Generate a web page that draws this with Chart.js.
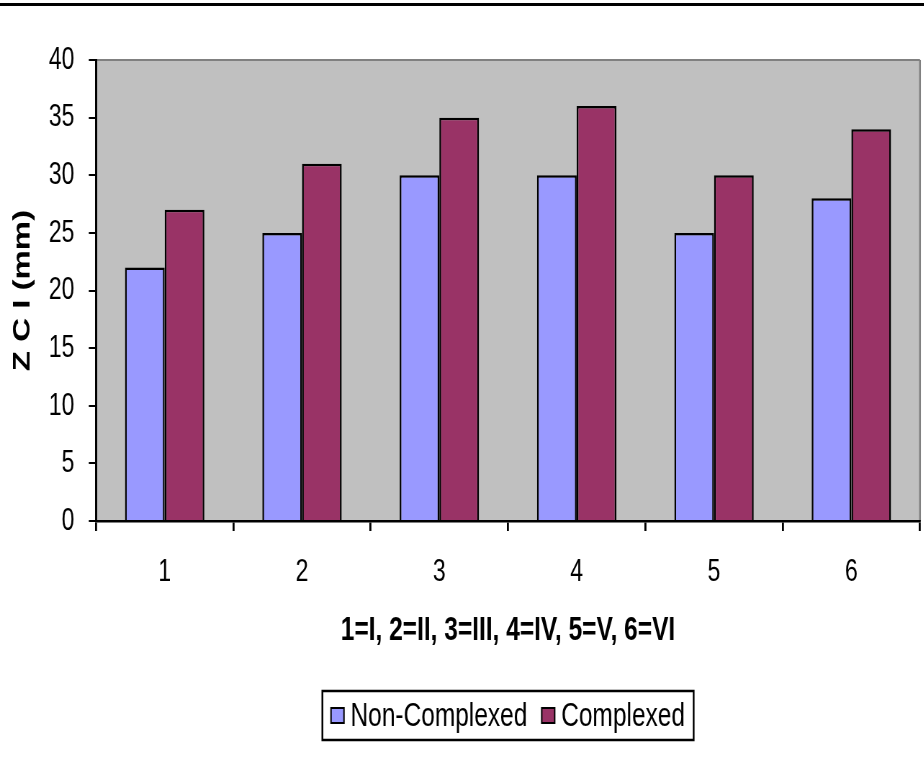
<!DOCTYPE html>
<html><head><meta charset="utf-8">
<script src="https://cdn.jsdelivr.net/npm/chart.js@4.4.1/dist/chart.umd.min.js"></script>
<style>
html,body{margin:0;padding:0;background:#fff;overflow:hidden;width:924px;height:758px}
#c{display:block;transform:scaleX(0.72);transform-origin:0 0}
</style></head><body>
<canvas id="c" width="1283" height="758"></canvas>
<script>
// Chart values
const categories = ['1', '2', '3', '4', '5', '6'];
const nonComplexed = [22, 25, 30, 30, 25, 28];
const complexed = [27, 31, 35, 36, 30, 34];
const seriesNames = ['Non-Complexed', 'Complexed'];
const xTitle = '1=I, 2=II, 3=III, 4=IV, 5=V, 6=VI';
const yTitle = 'Z C I (mm)';

// The canvas is drawn wide and narrowed in CSS, giving the condensed look
const SX = 0.72;
const W = 1283, H = 758;
const FONT = "'Liberation Sans', Arial, sans-serif";
const plotLeft = 96 / SX, plotRight = 920 / SX;

const framePlugin = {
  id: 'frame',
  beforeDraw(chart) {
    const { ctx, chartArea: a } = chart;
    ctx.save();
    ctx.fillStyle = '#fff';
    ctx.fillRect(0, 0, chart.width, chart.height);
    ctx.fillStyle = '#000';
    ctx.fillRect(0, 3, chart.width, 3);
    ctx.fillStyle = '#C0C0C0';
    ctx.fillRect(a.left, a.top, a.right - a.left, a.bottom - a.top);
    ctx.strokeStyle = '#808080';
    ctx.lineWidth = 2;
    ctx.beginPath();
    ctx.moveTo(a.left, a.top);
    ctx.lineTo(a.right, a.top);
    ctx.stroke();
    ctx.lineWidth = 2.5;
    ctx.beginPath();
    ctx.moveTo(a.right, a.top);
    ctx.lineTo(a.right, a.bottom);
    ctx.stroke();
    ctx.restore();
  },
  afterDraw(chart) {
    // boxed legend under the axis title
    const { ctx, chartArea: a } = chart;
    ctx.save();
    ctx.font = '34px ' + FONT;
    ctx.textBaseline = 'middle';
    const sw = 18, sh = 15, gapIn = 9, gapItem = 20, margin = 12;
    const ds = chart.data.datasets;
    const widths = ds.map(d => ctx.measureText(d.label).width);
    let total = 0;
    widths.forEach((w, i) => { total += sw + gapIn + w + (i < widths.length - 1 ? gapItem : 0); });
    const cx = (a.left + a.right) / 2;
    const boxL = cx - total / 2 - margin, boxR = cx + total / 2 + margin;
    const boxT = 691, boxB = 740, midY = (boxT + boxB) / 2;
    ctx.fillStyle = '#fff';
    ctx.fillRect(boxL, boxT, boxR - boxL, boxB - boxT);
    ctx.strokeStyle = '#000';
    ctx.lineWidth = 2.5;
    ctx.strokeRect(boxL, boxT, boxR - boxL, boxB - boxT);
    let x = cx - total / 2;
    ds.forEach((d, i) => {
      ctx.fillStyle = d.backgroundColor;
      ctx.fillRect(x, midY - sh / 2, sw, sh);
      ctx.lineWidth = 2;
      ctx.strokeStyle = '#000';
      ctx.strokeRect(x, midY - sh / 2, sw, sh);
      x += sw + gapIn;
      ctx.fillStyle = '#000';
      ctx.fillText(d.label, x, midY + 1);
      x += widths[i] + gapItem;
    });
    ctx.restore();
  }
};

new Chart(document.getElementById('c'), {
  type: 'bar',
  data: {
    labels: categories,
    datasets: [
      { label: seriesNames[0], data: nonComplexed, backgroundColor: '#9999FF',
        borderColor: '#000', borderWidth: 2.5, borderSkipped: 'bottom' },
      { label: seriesNames[1], data: complexed, backgroundColor: '#993366',
        borderColor: '#000', borderWidth: 2.5, borderSkipped: 'bottom' }
    ]
  },
  options: {
    responsive: false,
    devicePixelRatio: 1,
    animation: false,
    layout: { padding: { top: 60, right: W - plotRight, bottom: 107, left: 0 } },
    datasets: { bar: { categoryPercentage: 0.578, barPercentage: 1 } },
    plugins: { legend: { display: false }, tooltip: { enabled: false } },
    scales: {
      x: {
        offset: true,
        grid: { offset: true, drawOnChartArea: false, drawTicks: true, tickLength: 10, color: '#000', lineWidth: 2.8 },
        border: { color: '#000', width: 2.5 },
        ticks: { font: { family: FONT, size: 32 }, color: '#000', padding: 22, maxRotation: 0 },
        title: { display: true, text: xTitle, color: '#000',
                 font: { family: FONT, size: 34, weight: 'bold' }, padding: { top: 0, bottom: 0 } },
        afterFit(s) { s.height = 130; }
      },
      y: {
        min: 0, max: 40,
        ticks: { stepSize: 5, font: { family: FONT, size: 32 }, color: '#000', padding: 20 },
        grid: { drawOnChartArea: false, drawTicks: true, tickLength: 10, color: '#000', lineWidth: 2 },
        border: { color: '#000', width: 3 },
        title: { display: true, text: yTitle, color: '#000',
                 font: { family: FONT, size: 33, weight: 'bold' }, padding: { top: 12, bottom: 0 } },
        afterFit(s) { s.width = plotLeft; }
      }
    }
  },
  plugins: [framePlugin]
});
</script>
</body></html>
